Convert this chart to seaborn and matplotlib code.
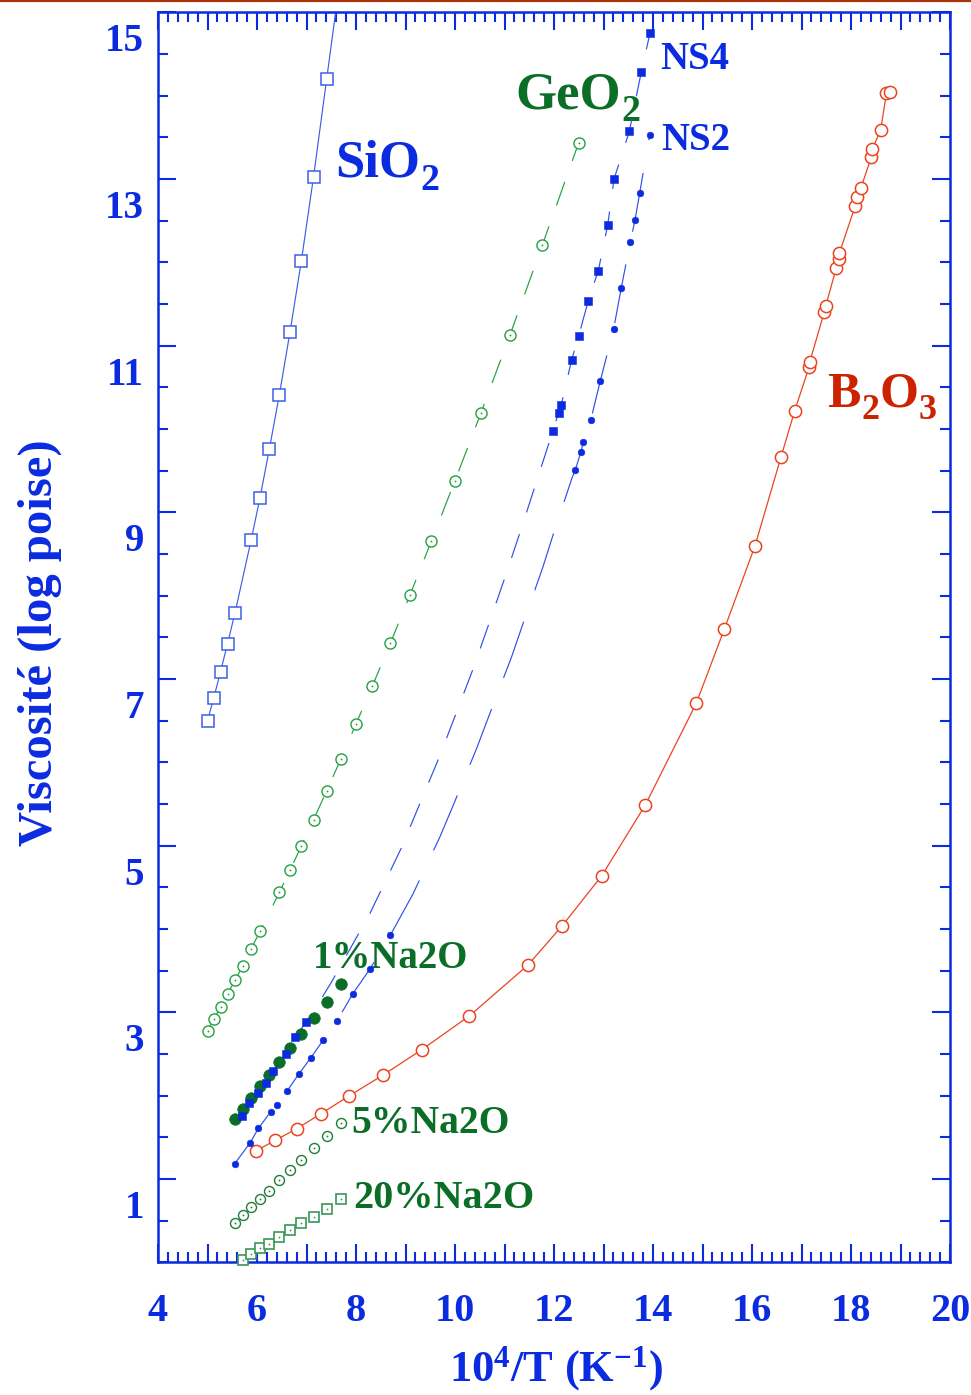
import matplotlib
matplotlib.use("Agg")
import matplotlib.pyplot as plt
import seaborn as sns
from matplotlib.ticker import FixedLocator, MultipleLocator
from matplotlib.transforms import ScaledTranslation
from matplotlib.lines import Line2D

# ---------------------------------------------------------------- data
# x = 10^4 / T (K^-1), y = log10 viscosity (poise)
sio2_x = [5.000, 5.128, 5.263, 5.405, 5.556, 5.882, 6.061, 6.250, 6.452, 6.667, 6.897, 7.143, 7.407]
sio2_y = [6.500, 6.776, 7.087, 7.423, 7.795, 8.668, 9.176, 9.760, 10.412, 11.164, 12.020, 13.028, 14.197]

geo2_x = [5.000, 5.128, 5.263, 5.405, 5.556, 5.714, 5.882, 6.061, 6.452, 6.667, 6.897, 7.143,
          7.407, 7.692, 8.000, 8.333, 8.696, 9.091, 9.524, 10.000, 10.526, 11.111, 11.765, 12.500]
geo2_y = [2.776, 2.916, 3.066, 3.217, 3.385, 3.559, 3.763, 3.970, 4.440, 4.704, 4.996, 5.311,
          5.659, 6.036, 6.460, 6.919, 7.432, 8.008, 8.656, 9.380, 10.195, 11.128, 12.208, 13.436]

na1_x = [5.556, 5.714, 5.882, 6.061, 6.250, 6.452, 6.667, 6.897, 7.143, 7.407, 7.692]
na1_y = [1.723, 1.836, 1.968, 2.112, 2.248, 2.400, 2.568, 2.742, 2.928, 3.127, 3.340]
na5_x = [5.556, 5.714, 5.882, 6.061, 6.250, 6.452, 6.667, 6.897, 7.143, 7.407, 7.692]
na5_y = [0.472, 0.568, 0.664, 0.763, 0.859, 0.984, 1.104, 1.228, 1.375, 1.519, 1.675]
na20_x = [5.714, 5.882, 6.061, 6.250, 6.452, 6.667, 6.897, 7.143, 7.407, 7.692]
na20_y = [0.028, 0.100, 0.168, 0.223, 0.300, 0.388, 0.468, 0.547, 0.640, 0.756]

ns4_x = [5.707, 5.842, 6.020, 6.174, 6.317, 6.586, 6.768, 6.990,
         11.974, 12.095, 12.147, 12.358, 12.499, 12.693, 12.895, 13.085, 13.212, 13.525, 13.764, 13.939]
ns4_y = [1.756, 1.915, 2.035, 2.155, 2.292, 2.503, 2.706, 2.878,
         9.980, 10.196, 10.292, 10.832, 11.116, 11.540, 11.900, 12.448, 12.996, 13.578, 14.288, 14.749]
# fitted curve vertices across the unmeasured range
ns4_fit_x = [7.246, 7.509, 8.283, 8.923, 9.313, 9.677, 10.046, 10.370, 10.693, 11.004, 11.313, 11.602, 11.905]
ns4_fit_y = [3.112, 3.367, 4.188, 4.981, 5.537, 6.054, 6.623, 7.128, 7.676, 8.209, 8.757, 9.287, 9.843]

ns2_x = [5.549, 5.859, 6.030, 6.273, 6.404, 6.602, 6.848, 7.085, 7.339, 7.610, 7.935, 8.283, 8.693,
         12.430, 12.545, 12.592, 12.741, 12.935, 13.206, 13.360, 13.541, 13.636, 13.731, 13.933]
ns2_y = [1.183, 1.432, 1.609, 1.804, 1.882, 2.050, 2.263, 2.452, 2.668, 2.890, 3.223, 3.520, 3.924,
         9.508, 9.727, 9.848, 10.104, 10.576, 11.204, 11.696, 12.244, 12.504, 12.832, 13.528]
ns2_fit_x = [8.788, 9.145, 9.697, 9.966, 10.438, 10.693, 11.145, 11.368, 11.772, 11.974, 12.364]
ns2_fit_y = [4.027, 4.413, 5.107, 5.487, 6.168, 6.568, 7.268, 7.654, 8.336, 8.715, 9.413]

b2o3_x = [5.986, 6.370, 6.802, 7.293, 7.865, 8.539, 9.327, 10.289, 11.469, 12.162, 12.964, 13.844,
          14.875, 15.440, 16.061, 16.586, 16.863, 17.152, 17.166, 17.461, 17.489, 17.703, 17.764,
          17.764, 18.087, 18.115, 18.202, 18.410, 18.430, 18.600, 18.717, 18.778]
b2o3_y = [1.339, 1.464, 1.603, 1.783, 1.999, 2.244, 2.551, 2.956, 3.564, 4.036, 4.638, 5.487,
          6.710, 7.597, 8.598, 9.664, 10.220, 10.740, 10.804, 11.404, 11.476, 11.932, 12.036,
          12.108, 12.680, 12.780, 12.896, 13.260, 13.357, 13.588, 14.035, 14.047]

x_ticks = list(range(4, 21))
x_tick_labels = [str(v) if v % 2 == 0 else "" for v in x_ticks]
y_ticks = [1, 3, 5, 7, 9, 11, 13, 15]
y_tick_labels = [str(v) for v in y_ticks]

# ---------------------------------------------------------------- style
BLUE = "#0a2be0"
BLUE_LINE = "#2f4fe8"
SIO2_BLUE = "#3d5fe8"
GEO2_GREEN = "#22a040"
DARK_GREEN = "#0b6e26"
NA5_GREEN = "#1d7d38"
NA20_GREEN = "#3a9658"
RED = "#ea4420"
RED_TEXT = "#cc2200"

sns.set_style("ticks")
plt.rcParams.update({
    "font.family": ["Liberation Serif", "DejaVu Serif"],
    "font.weight": "bold",
    "mathtext.fontset": "custom",
    "mathtext.rm": "Liberation Serif:bold",
    "mathtext.bf": "Liberation Serif:bold",
    "mathtext.it": "Liberation Serif:italic:bold",
    "lines.scale_dashes": False,
})

fig = plt.figure(figsize=(9.71, 13.95), dpi=100)
ax = fig.add_axes([158 / 971, 132.7 / 1395, 792 / 971, 1250 / 1395])
ax.set_facecolor("white")


def draw_line(x, y, color, lw=0.85, ls="-", z=2):
    sns.lineplot(x=x, y=y, ax=ax, color=color, linewidth=lw, linestyle=ls,
                 estimator=None, sort=False, legend=False, zorder=z)


def draw_marks(x, y, marker, ms, color, face="white", mew=1.0, z=3, dot=False):
    sns.lineplot(x=x, y=y, ax=ax, color=color, linestyle="", marker=marker,
                 markersize=ms, markerfacecolor=face, markeredgecolor=color,
                 markeredgewidth=mew, estimator=None, sort=False, legend=False,
                 zorder=z, clip_on=False)
    if dot:
        sns.lineplot(x=x, y=y, ax=ax, color=color, linestyle="", marker="o",
                     markersize=1.3, markerfacecolor=color, markeredgecolor=color,
                     markeredgewidth=0, estimator=None, sort=False, legend=False,
                     zorder=z + 0.1, clip_on=False)


def merged(xa, ya, xb, yb):
    pts = sorted(zip(list(xa) + list(xb), list(ya) + list(yb)))
    return [p[0] for p in pts], [p[1] for p in pts]


def formula(x, y, parts, size, color):
    """Chemical formula: even pieces on the baseline, odd pieces as subscripts."""
    prev = ax.text(x, y, parts[0], fontsize=size, color=color, ha="left",
                   va="baseline", fontweight="bold", zorder=1)
    for i, piece in enumerate(parts[1:], start=1):
        sub = i % 2 == 1
        prev = ax.annotate(piece, xy=(1, y), xycoords=(prev, "data"),
                           xytext=(0.5, -0.25 * size) if sub else (0, 0),
                           textcoords="offset points",
                           fontsize=size * 0.72 if sub else size, color=color,
                           ha="left", va="baseline", fontweight="bold", zorder=1,
                           annotation_clip=False)


# SiO2: solid line continued up to the frame along its last segment
slope = (sio2_x[-1] - sio2_x[-2]) / (sio2_y[-1] - sio2_y[-2])
sio2_line_x = sio2_x + [sio2_x[-1] + (15.5 - sio2_y[-1]) * slope]
sio2_line_y = sio2_y + [15.5]
draw_line(sio2_line_x, sio2_line_y, SIO2_BLUE)
draw_marks(sio2_x, sio2_y, "s", 8.2, SIO2_BLUE, mew=1.1)

# GeO2: dashed
draw_line(geo2_x, geo2_y, GEO2_GREEN, ls=(0, (18, 16)))
draw_marks(geo2_x, geo2_y, "o", 8.0, GEO2_GREEN, mew=1.0, dot=True)

# Na2O-doped GeO2
draw_marks(na1_x, na1_y, "o", 8.3, DARK_GREEN, face=DARK_GREEN, mew=0.5, z=3)
draw_marks(na5_x, na5_y, "o", 7.2, NA5_GREEN, mew=1.0, dot=True)
draw_marks(na20_x, na20_y, "s", 7.8, NA20_GREEN, mew=1.2, dot=True)

# NS4 and NS2 with their dashed curves
c4x, c4y = merged(ns4_x, ns4_y, ns4_fit_x, ns4_fit_y)
draw_line(c4x, c4y, BLUE_LINE, ls=(0, (18, 16.5)))
draw_marks(ns4_x, ns4_y, "s", 5.2, BLUE, face=BLUE, mew=0.4, z=4)

c2x, c2y = merged(ns2_x, ns2_y, ns2_fit_x, ns2_fit_y)
draw_line(c2x, c2y, BLUE_LINE, ls=(0, (43, 24)))
draw_marks(ns2_x, ns2_y, "o", 4.8, BLUE, face=BLUE, mew=0.4, z=4)

# B2O3
bx, by = merged(b2o3_x, b2o3_y, [], [])
draw_line(bx, by, RED, lw=0.9)
draw_marks(b2o3_x, b2o3_y, "o", 8.8, RED, mew=1.1)

# ---------------------------------------------------------------- labels
lab = dict(ha="left", va="baseline", zorder=1, fontweight="bold")
formula(7.576, 13.028, ["SiO", "2"], 38, BLUE)
formula(11.212, 13.849, ["GeO", "2"], 38, DARK_GREEN)
formula(17.521, 10.268, ["B", "2", "O", "3"], 36, RED_TEXT)
ax.text(14.141, 14.317, "NS4", fontsize=28, color=BLUE, **lab)
ax.text(14.176, 13.348, "NS2", fontsize=28, color=BLUE, **lab)
ax.text(7.137, 3.528, "1%Na2O", fontsize=28, color=DARK_GREEN, **lab)
ax.text(7.913, 1.555, "5%Na2O", fontsize=28.5, color=DARK_GREEN, **lab)
ax.text(7.945, 0.648, "20%Na2O", fontsize=29, color=DARK_GREEN, **lab)

# ---------------------------------------------------------------- axes
ax.set_xlim(4, 20)
ax.set_ylim(0, 15)
ax.xaxis.set_major_locator(FixedLocator(x_ticks))
ax.set_xticklabels(x_tick_labels)
ax.xaxis.set_minor_locator(MultipleLocator(0.2))
ax.yaxis.set_major_locator(FixedLocator(y_ticks))
ax.set_yticklabels(y_tick_labels)
ax.yaxis.set_minor_locator(MultipleLocator(0.5))

for side in ax.spines.values():
    side.set_color(BLUE)
    side.set_linewidth(1.8)
    side.set_visible(True)

ax.tick_params(which="both", direction="in", top=True, right=True, color=BLUE, width=1.5)
ax.tick_params(which="major", length=13)
ax.tick_params(which="minor", length=7)
ax.tick_params(axis="x", which="major", pad=22, labelsize=29, labelcolor=BLUE)
ax.tick_params(axis="y", which="major", pad=10, labelsize=28, labelcolor=BLUE)
for t in ax.get_xticklabels() + ax.get_yticklabels():
    t.set_fontweight("bold")

# y tick labels sit a little below their ticks
shift = ScaledTranslation(0, -25 / 100, fig.dpi_scale_trans)
for tick in ax.yaxis.get_major_ticks():
    tick.label1.set_transform(tick.label1.get_transform() + shift)

ax.set_ylabel("Viscosité (log poise)", fontsize=35, color=BLUE, fontweight="bold")
ax.yaxis.set_label_coords(-0.121, 0.496)
ax.set_xlabel(r"$\mathbf{10^{4}/T\ (K^{-1})}$", fontsize=32, color=BLUE)
ax.xaxis.set_label_coords(0.5025, -0.0655)

# thin rule across the top edge of the page
fig.add_artist(Line2D([0, 1], [0.9992, 0.9992], transform=fig.transFigure,
                      color="#a8340e", linewidth=1.6))

fig.savefig("out.png", dpi=100, facecolor="white")
